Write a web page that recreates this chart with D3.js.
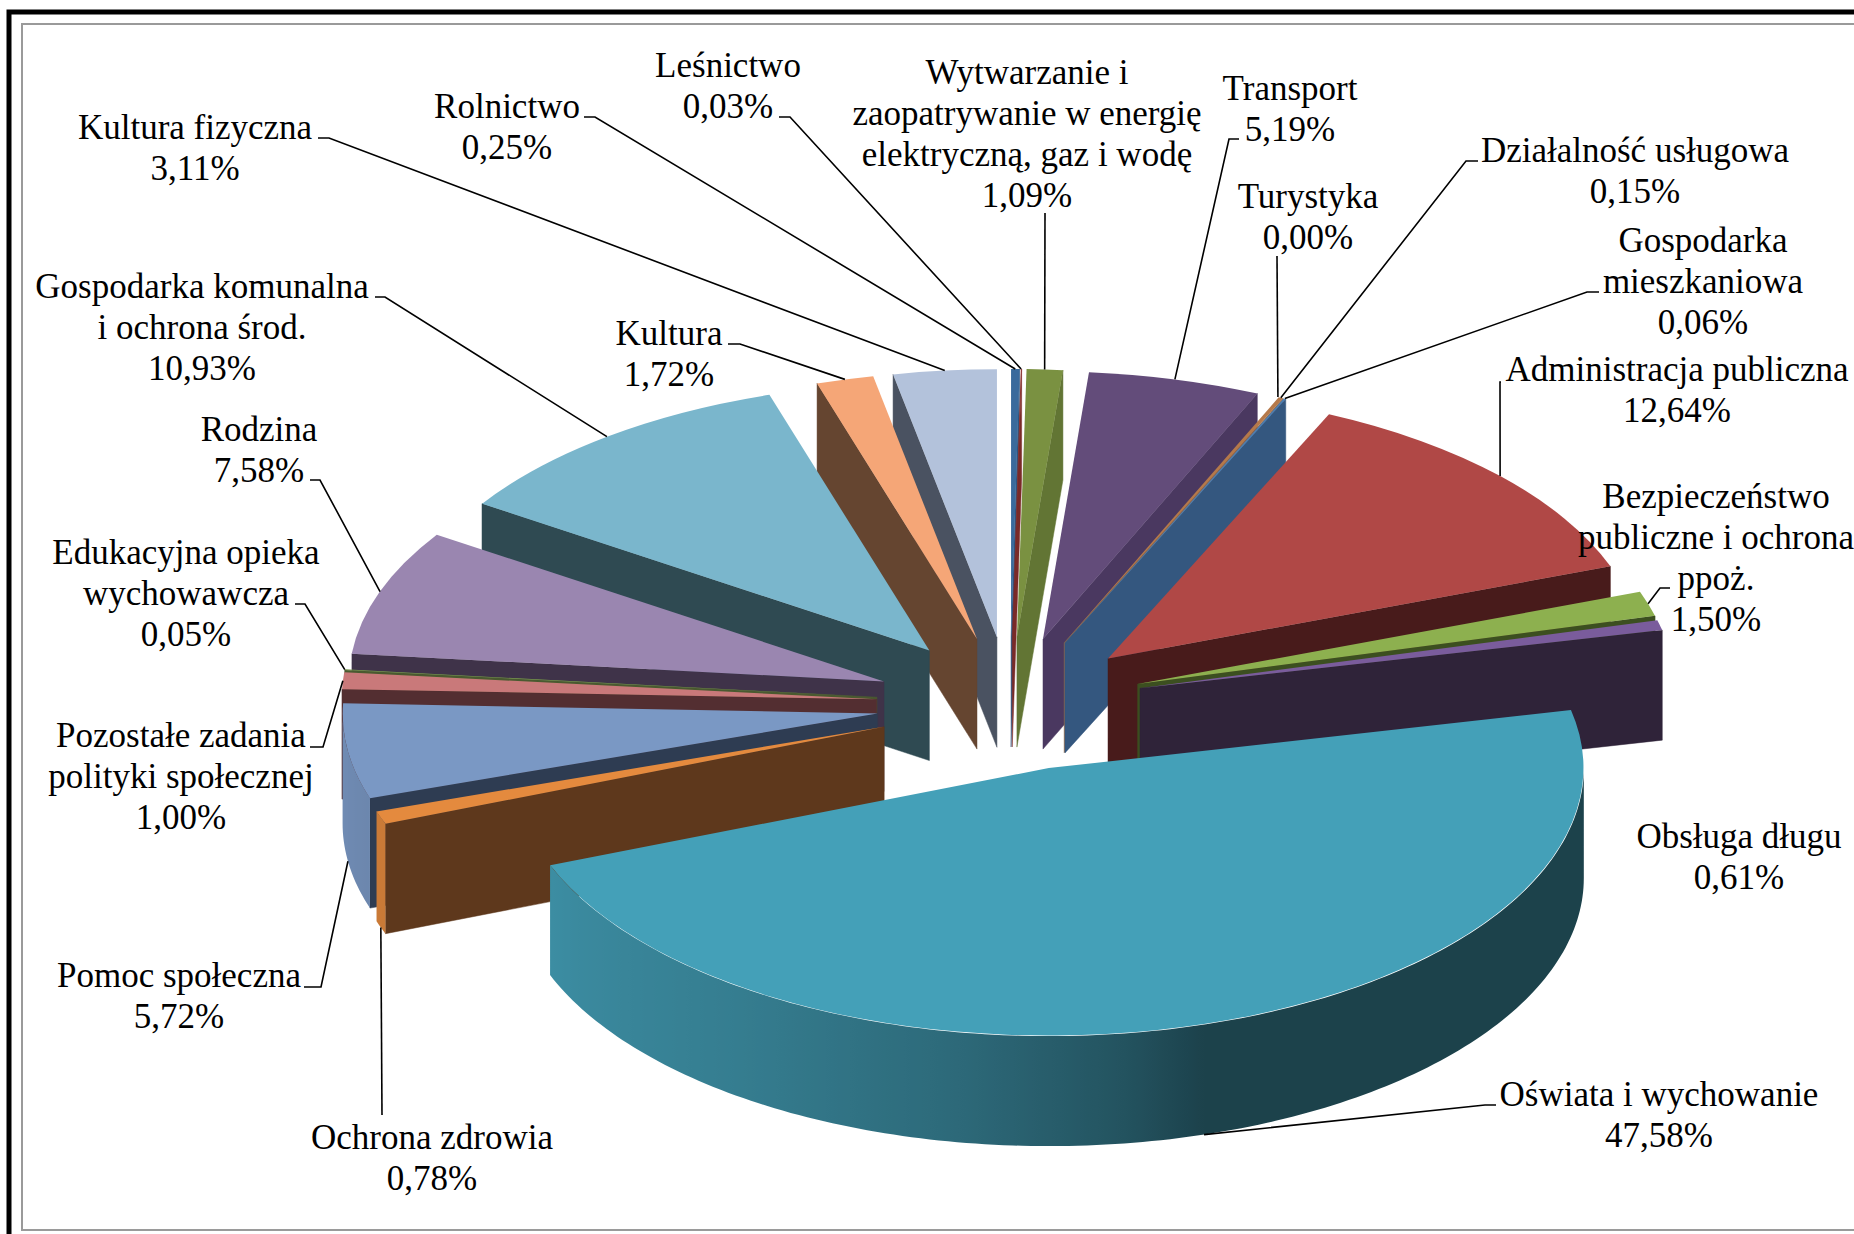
<!DOCTYPE html>
<html>
<head>
<meta charset="utf-8">
<script src="https://cdn.jsdelivr.net/npm/d3@7"></script>
<style>
    html, body { margin: 0; padding: 0; background: #fff; }
    svg { display: block; }
    text { font-family: "Liberation Serif", serif; font-size: 35px; fill: #000; }
</style>
</head>
<body>
<svg id="chart" width="1854" height="1234"></svg>
<script>
const categories = [
    "Rolnictwo",
    "Leśnictwo",
    "Wytwarzanie i|zaopatrywanie w energię|elektryczną, gaz i wodę",
    "Transport",
    "Turystyka",
    "Działalność usługowa",
    "Gospodarka|mieszkaniowa",
    "Administracja publiczna",
    "Bezpieczeństwo|publiczne i ochrona|ppoż.",
    "Obsługa długu",
    "Oświata i wychowanie",
    "Ochrona zdrowia",
    "Pomoc społeczna",
    "Pozostałe zadania|polityki społecznej",
    "Edukacyjna opieka|wychowawcza",
    "Rodzina",
    "Gospodarka komunalna|i ochrona środ.",
    "Kultura",
    "Kultura fizyczna"
];
const shares = [0.25, 0.03, 1.09, 5.19, 0.00, 0.15, 0.06, 12.64, 1.50, 0.61, 47.58, 0.78, 5.72, 1.00, 0.05, 7.58, 10.93, 1.72, 3.11];

const topColors = ["#3A6A9C", "#8E3230", "#7A9141", "#634C7A", "#3A8CA3", "#B5794A", "#4A7EB5", "#B04846", "#8DB04F", "#7A5C9C",
    "#44A0B8", "#E48A3E", "#7A98C4", "#C9797A", "#7A9A50", "#9A86B0", "#7AB6CC", "#F5A677", "#B3C2DB"];
const wallColors = ["#2F5680", "#7A2A28", "#627534", "#4A3860", "#2F6E7F", "#8A6A50", "#34577F", "#481B1B", "#3C4F20", "#2F2339",
    "#1C404B", "#5E381C", "#2E3C52", "#532E31", "#4A5A30", "#3F3349", "#2F4A52", "#654530", "#4A5261"];

// label anchor: centre x, first baseline, then the leader points on the label side
const labelLayout = [
    { x: 507, y: 118, leader: [[584, 117], [595, 117]] },
    { x: 728, y: 77, leader: [[779, 117], [790, 117]] },
    { x: 1027, y: 84, leader: [[1045, 213]] },
    { x: 1290, y: 100, leader: [[1239, 139], [1229, 139]] },
    { x: 1308, y: 208, leader: [[1277, 256]] },
    { x: 1635, y: 162, leader: [[1478, 161], [1466, 161]] },
    { x: 1703, y: 252, leader: [[1599, 292], [1587, 292]] },
    { x: 1677, y: 381, leader: [[1501, 382], [1500, 382]] },
    { x: 1716, y: 508, leader: [[1670, 588], [1660, 588]] },
    { x: 1739, y: 848, leader: null },
    { x: 1659, y: 1106, leader: [[1496, 1105], [1485, 1105]] },
    { x: 432, y: 1149, leader: [[382, 1115]] },
    { x: 179, y: 987, leader: [[304, 987], [321, 987]] },
    { x: 181, y: 747, leader: [[310, 747], [323, 747]] },
    { x: 186, y: 564, leader: [[295, 604], [305, 604]] },
    { x: 259, y: 441, leader: [[310, 480], [320, 480]] },
    { x: 202, y: 298, leader: [[375, 297], [385, 297]] },
    { x: 669, y: 345, leader: [[728, 344], [740, 344]] },
    { x: 195, y: 139, leader: [[318, 138], [329, 138]] }
];

const centerX = 1010,
    centerY = 704,
    radiusX = 535,
    radiusY = 268,
    depth = 110,
    explode = 0.25,
    lineHeight = 41;

const svg = d3.select("#chart");
const defs = svg.append("defs");

// frame
svg.append("rect").attr("x", 9).attr("y", 12).attr("width", 1860).attr("height", 1240)
    .attr("fill", "none").attr("stroke", "#000").attr("stroke-width", 5);
svg.append("rect").attr("x", 22).attr("y", 24).attr("width", 1860).attr("height", 1206)
    .attr("fill", "none").attr("stroke", "#9a9a9a").attr("stroke-width", 2);

// flat oblique view: unit circle on to the ellipse
const px = d3.scaleLinear().domain([-1, 1]).range([centerX - radiusX, centerX + radiusX]);
const py = d3.scaleLinear().domain([-1, 1]).range([centerY + radiusY, centerY - radiusY]);

// brightness of the round wall against the direction it faces (degrees)
const wallShade = d3.scaleLinear()
    .domain([90, 163, 172, 190, 215, 248, 270])
    .range([0.41, 0.41, 0.52, 0.66, 0.78, 0.88, 0.92]);

const slices = d3.pie().sort(null).startAngle(0).endAngle(2 * Math.PI)(shares).map((d, i) => {
    const mid = (d.startAngle + d.endAngle) / 2;
    return {
        i: i,
        start: d.startAngle,
        end: d.endAngle,
        mid: mid,
        ux: explode * Math.sin(mid),
        uy: explode * Math.cos(mid),
        value: d.value
    };
});

function point(s, angle, drop) {
    const r = angle === null ? 0 : 1;
    const a = angle === null ? 0 : angle;
    return [
        px(s.ux + r * Math.sin(a)),
        py(s.uy + r * Math.cos(a)) + (drop ? depth : 0)
    ];
}

const line = d3.line();
const arc = d3.arc().innerRadius(0).outerRadius(1);
const pieG = svg.append("g");

// back to front
const ordered = slices.filter(s => s.value > 0).sort((a, b) => b.uy - a.uy);

ordered.forEach(s => {
    const g = pieG.append("g");
    const wall = wallColors[s.i];

    // radial walls, only the ones turned to the viewer
    [[s.start, -1], [s.end, 1]].forEach(([angle, side]) => {
        const normalY = side * -Math.sin(angle);
        if (normalY >= 0) return;
        g.append("path")
            .attr("d", line([point(s, null, false), point(s, angle, false), point(s, angle, true), point(s, null, true)]) + "Z")
            .attr("fill", wall)
            .attr("stroke", wall)
            .attr("stroke-width", 0.5);
    });

    // round wall, one path with a left-right gradient for the light
    const from = Math.max(s.start, Math.PI / 2),
        to = Math.min(s.end, 1.5 * Math.PI);
    if (to > from) {
        const steps = Math.max(2, Math.ceil((to - from) * 180 / Math.PI));
        const angles = d3.range(steps + 1).map(k => from + (to - from) * k / steps);
        const xs = angles.map(a => point(s, a, false)[0]);
        const x0 = d3.min(xs), x1 = d3.max(xs);
        const base = d3.rgb(topColors[s.i]);
        const grad = defs.append("linearGradient")
            .attr("id", "wall" + s.i)
            .attr("gradientUnits", "userSpaceOnUse")
            .attr("x1", x0).attr("y1", 0)
            .attr("x2", x1).attr("y2", 0);
        angles.slice().reverse().forEach((a, k, list) => {
            const f = wallShade(a * 180 / Math.PI);
            grad.append("stop")
                .attr("offset", (point(s, a, false)[0] - x0) / (x1 - x0))
                .attr("stop-color", d3.rgb(base.r * f, base.g * f, base.b * f).formatHex());
        });
        const rim = angles.map(a => point(s, a, false)).concat(angles.slice().reverse().map(a => point(s, a, true)));
        g.append("path")
            .attr("d", line(rim) + "Z")
            .attr("fill", "url(#wall" + s.i + ")");
    }

    // top
    const apex = point(s, null, false);
    g.append("path")
        .attr("d", arc({ startAngle: s.start, endAngle: s.end }))
        .attr("transform", "translate(" + apex[0] + "," + apex[1] + ") scale(" + radiusX + "," + radiusY + ")")
        .attr("fill", topColors[s.i]);
});

// leaders end on the middle of the slice's rim, at the foot of the wall for front slices
const leaderG = svg.append("g");
slices.forEach(s => {
    const layout = labelLayout[s.i];
    if (!layout.leader) return;
    const end = point(s, s.mid, Math.cos(s.mid) < 0);
    leaderG.append("path")
        .attr("d", line(layout.leader.concat([end])))
        .attr("fill", "none")
        .attr("stroke", "#000")
        .attr("stroke-width", 1.6);
});

const pct = d3.formatLocale({ decimal: ",", thousands: " ", grouping: [3], currency: ["", ""] }).format(".2f");

const labelG = svg.append("g");
categories.forEach((name, i) => {
    const layout = labelLayout[i];
    const lines = name.split("|").concat([pct(shares[i]) + "%"]);
    const t = labelG.append("text").attr("text-anchor", "middle");
    lines.forEach((txt, k) => {
        t.append("tspan")
            .attr("x", layout.x)
            .attr("y", layout.y + k * lineHeight)
            .text(txt);
    });
});
</script>
</body>
</html>
